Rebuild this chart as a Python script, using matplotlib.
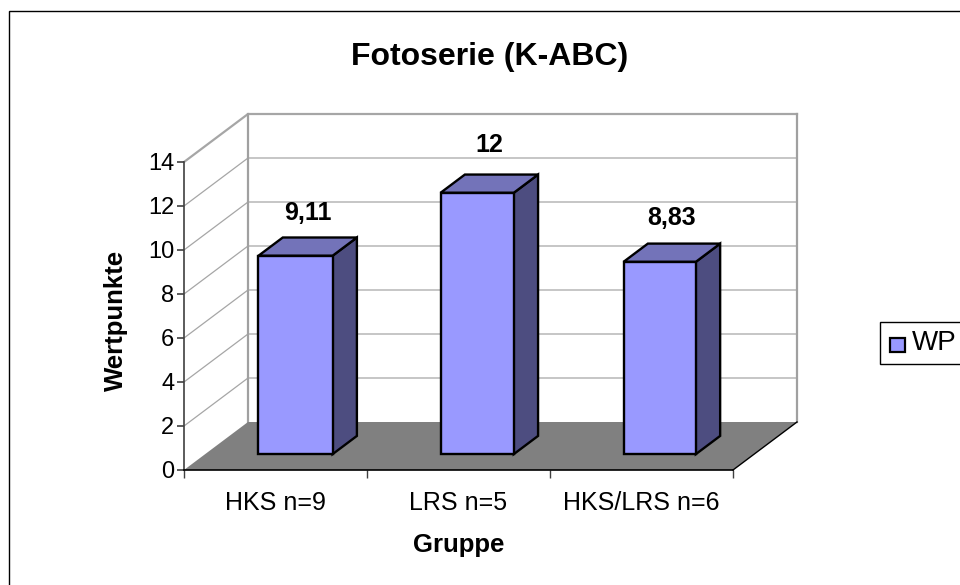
import matplotlib
matplotlib.use("Agg")
from matplotlib import pyplot as plt
from matplotlib.patches import Polygon, Rectangle

groups = ["HKS n=9", "LRS n=5", "HKS/LRS n=6"]
wp_values = [9.11, 12, 8.83]
wp_labels = ["9,11", "12", "8,83"]
y_ticks = [0, 2, 4, 6, 8, 10, 12, 14]

plt.rcParams['font.family'] = ['Liberation Sans', 'DejaVu Sans']

W, H = 960, 585
fig = plt.figure(figsize=(W / 100, H / 100), dpi=100)
# front plane of the fake 3d box, in pixels
left, right, bottom, top = 184, 733, 470, 162
ax = fig.add_axes([left / W, 1 - bottom / H, (right - left) / W, (bottom - top) / H])
ax.set_xlim(0, 3)
ax.set_ylim(0, 14)
ax.patch.set_visible(False)

# depth shift of the box in data units
DX = 64 / 183
DY = 48 / 22


def proj(x, v, d):
    return (x + d * DX, v + d * DY)


def face(pts, **kw):
    ax.add_patch(Polygon(pts, closed=True, clip_on=False, **kw))


# outer frame
fig.add_artist(Rectangle((9 / W, -0.01), 1.1, 1 - 11 / H + 0.01, transform=fig.transFigure,
                         fill=False, ec="black", lw=1.0))

# walls and gridlines
for t in y_ticks[1:]:
    p0, p1, p2 = proj(0, t, 0), proj(0, t, 1), proj(3, t, 1)
    lw = 0.9 if t < 14 else 1.6
    ax.plot([p0[0], p1[0], p2[0]], [p0[1], p1[1], p2[1]], color="#a6a6a6", lw=lw,
            clip_on=False, zorder=1)
p1, p2, p3 = proj(0, 0, 1), proj(0, 14, 1), proj(3, 0, 1)
p4 = proj(3, 14, 1)
ax.plot([p1[0], p2[0]], [p1[1], p2[1]], color="#a0a0a0", lw=1.6, clip_on=False, zorder=1)
ax.plot([p3[0], p4[0]], [p3[1], p4[1]], color="#a0a0a0", lw=1.6, clip_on=False, zorder=1)

# floor
face([proj(0, 0, 0), proj(3, 0, 0), proj(3, 0, 1), proj(0, 0, 1)], fc="#808080", ec="none", zorder=2)
ax.plot(*zip(proj(3, 0, 0), proj(3, 0, 1)), color="black", lw=1.0, clip_on=False, zorder=2)

# bars
bar_scale = 0.99
bar_left = [0.2915, 1.2865, 2.2865]
bar_width = [0.405, 0.40, 0.395]
label_gap = [1.0, 1.2, 1.05]
for i, val in enumerate(wp_values):
    x0 = bar_left[i]
    x1 = x0 + bar_width[i]
    d0, d1 = 0.33, 0.71
    v = val * bar_scale
    style = dict(ec="black", lw=1.7, joinstyle="miter", zorder=3)
    face([proj(x1, 0, d0), proj(x1, 0, d1), proj(x1, v, d1), proj(x1, v, d0)], fc="#4d4d80", **style)
    face([proj(x0, v, d0), proj(x1, v, d0), proj(x1, v, d1), proj(x0, v, d1)], fc="#7373b9", **style)
    face([proj(x0, 0, d0), proj(x1, 0, d0), proj(x1, v, d0), proj(x0, v, d0)], fc="#9999ff", **style)
    lx, ly = proj((x0 + x1) / 2, v, 0.52)
    ax.text(lx, ly + label_gap[i], wp_labels[i], ha="center", va="bottom", fontsize=18, fontweight="bold", zorder=4)

# axes
for s in ["top", "right"]:
    ax.spines[s].set_visible(False)
ax.spines["left"].set_color("#404040")
ax.spines["bottom"].set_color("black")
ax.spines["left"].set_linewidth(1.2)
ax.spines["bottom"].set_linewidth(1.2)
for s in ax.spines.values():
    s.set_zorder(5)
ax.set_yticks(y_ticks)
ax.set_xticks([0, 1, 2, 3])
ax.set_xticklabels([])
ax.set_xticks([0.5, 1.5, 2.5], minor=True)
ax.set_xticklabels(groups, minor=True)
ax.tick_params(axis="x", which="minor", length=0, labelsize=18, pad=15)
ax.tick_params(axis="x", which="major", length=6, color="#404040", width=1.0)
ax.tick_params(axis="y", length=5, color="#404040", width=1.2, labelsize=17, pad=2)

fig.text(490 / W, 1 - 57 / H, "Fotoserie (K-ABC)", ha="center", va="center", fontsize=23, fontweight="bold")
fig.text(116 / W, 1 - 320 / H, "Wertpunkte", ha="center", va="center", rotation=90, fontsize=18.5, fontweight="bold")
fig.text(459 / W, 1 - 545 / H, "Gruppe", ha="center", va="center", fontsize=18.5, fontweight="bold")

# legend box
fig.add_artist(Rectangle((880 / W, 1 - 364 / H), 90 / W, 42 / H, transform=fig.transFigure,
                         fc="white", ec="black", lw=1.0))
fig.add_artist(Rectangle((890 / W, 1 - 352 / H), 15 / W, 14 / H, transform=fig.transFigure,
                         fc="#9999ff", ec="black", lw=1.6))
fig.text(912 / W, 1 - 343 / H, "WP", ha="left", va="center", fontsize=20)

fig.savefig("out.png", dpi=100)
